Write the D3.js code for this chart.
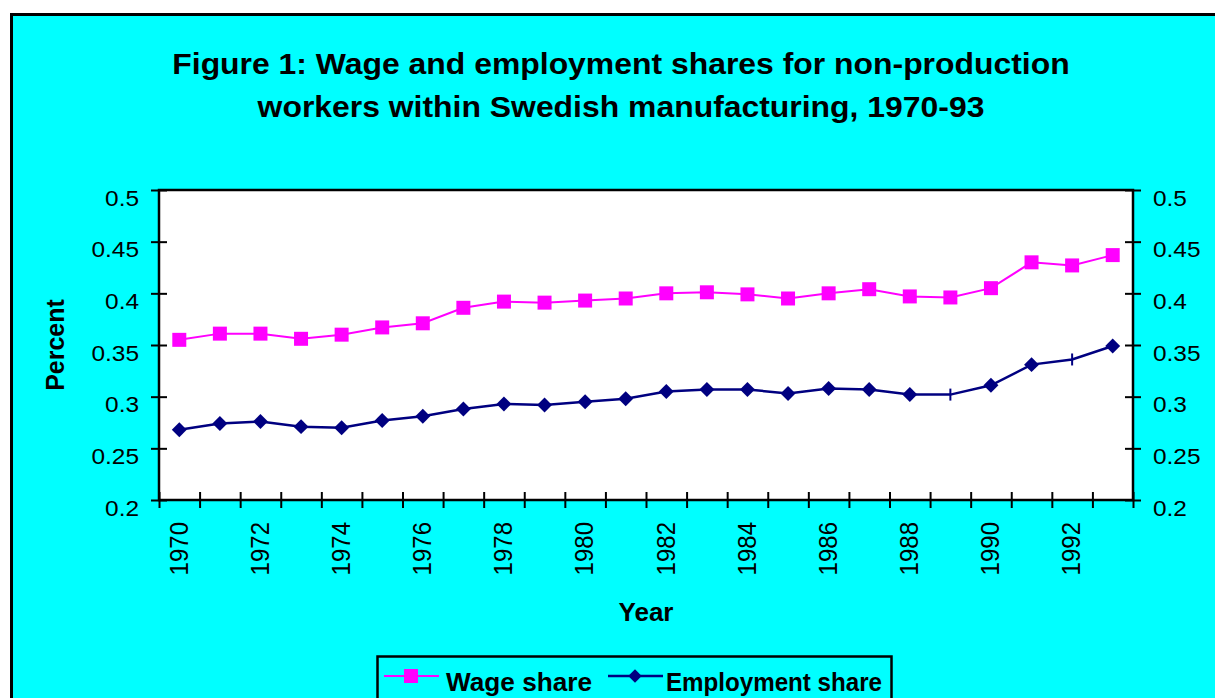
<!DOCTYPE html>
<html>
<head>
<meta charset="utf-8">
<script src="https://cdn.jsdelivr.net/npm/d3@7"></script>
<style>
  body { margin: 0; background: #fff; }
  text { font-family: Arial, "Liberation Sans", sans-serif; fill: #000; }
</style>
</head>
<body>
<div id="chart"></div>
<script>
// years on the category axis
var years = d3.range(1970, 1994);

// wage share of non-production workers
var wageShare = [0.355, 0.361, 0.361, 0.356, 0.360, 0.367, 0.371, 0.386, 0.392, 0.391,
    0.393, 0.395, 0.400, 0.401, 0.399, 0.395, 0.400, 0.404, 0.397, 0.396,
    0.405, 0.430, 0.427, 0.437];

// employment share of non-production workers
var employmentShare = [0.268, 0.274, 0.276, 0.271, 0.270, 0.277, 0.281, 0.288, 0.293, 0.292,
    0.295, 0.298, 0.305, 0.307, 0.307, 0.303, 0.308, 0.307, 0.302, 0.302,
    0.311, 0.331, 0.336, 0.349];

// years where the employment marker is drawn as a plain dash
var dashYears = [1989, 1992];

var yTicks = [0.2, 0.25, 0.3, 0.35, 0.4, 0.45, 0.5];
var labelYears = d3.range(1970, 1993, 2);

var svgWidth = 1215;
var svgHeight = 698;

// plot area in page pixels
var plot = { left: 159, right: 1133, top: 190, bottom: 500 };

var svg = d3.select("#chart")
    .append("svg")
    .attr("width", svgWidth)
    .attr("height", svgHeight);

// stretch a text element horizontally by a factor
function stretch(sel, k) {
    sel.each(function () {
        var w = this.getComputedTextLength();
        d3.select(this)
            .attr("textLength", w * k)
            .attr("lengthAdjust", "spacingAndGlyphs");
    });
}

// cyan chart area with black border (runs off the page right / bottom)
svg.append("rect")
    .attr("x", 11.5)
    .attr("y", 14.5)
    .attr("width", 1260)
    .attr("height", 760)
    .attr("fill", "#00ffff")
    .attr("stroke", "#000")
    .attr("stroke-width", 3);

// title
var titleLines = ["Figure 1: Wage and employment shares for non-production",
    "workers within Swedish manufacturing, 1970-93"];
svg.append("g").selectAll("text")
    .data(titleLines)
    .enter()
    .append("text")
    .attr("x", 621)
    .attr("y", (d, i) => 74 + i * 43)
    .attr("text-anchor", "middle")
    .style("font-size", "29px")
    .style("font-weight", "bold")
    .text(d => d)
    .call(stretch, 1.10);

// scales
var xBand = d3.scaleBand()
    .domain(years)
    .range([plot.left, plot.right])
    .padding(0);
var xEdge = d3.scaleLinear()
    .domain([0, years.length])
    .range([plot.left, plot.right]);
var yScale = d3.scaleLinear()
    .domain([0.2, 0.5])
    .range([plot.bottom, plot.top]);

var cx = d => xBand(d) + xBand.bandwidth() / 2;

// white plot background
svg.append("rect")
    .attr("x", plot.left)
    .attr("y", plot.top)
    .attr("width", plot.right - plot.left)
    .attr("height", plot.bottom - plot.top)
    .attr("fill", "#fff")
    .attr("stroke", "#000")
    .attr("stroke-width", 2.5);

// left axis
var leftAxis = svg.append("g")
    .attr("transform", `translate(${plot.left},0)`)
    .call(d3.axisLeft(yScale).tickValues(yTicks).tickSize(8).tickPadding(12).tickFormat(d3.format("")));

// right axis
var rightAxis = svg.append("g")
    .attr("transform", `translate(${plot.right},0)`)
    .call(d3.axisRight(yScale).tickValues(yTicks).tickSize(8).tickPadding(12).tickFormat(d3.format("")));

[leftAxis, rightAxis].forEach(function (ax) {
    ax.select(".domain").remove();
    ax.selectAll(".tick line")
        .attr("stroke", "#000")
        .attr("stroke-width", 2)
        .attr("x1", -8)
        .attr("x2", 8);
    ax.selectAll(".tick text")
        .attr("y", 8)
        .style("font-size", "22px")
        .style("font-family", "Arial, 'Liberation Sans', sans-serif")
        .call(stretch, 1.11);
});

// bottom axis: cross ticks at category edges
var bottomAxis = svg.append("g")
    .attr("transform", `translate(0,${plot.bottom})`)
    .call(d3.axisBottom(xEdge).tickValues(d3.range(years.length + 1)).tickSize(8).tickFormat(""));
bottomAxis.select(".domain").remove();
bottomAxis.selectAll(".tick line")
    .attr("stroke", "#000")
    .attr("stroke-width", 2)
    .attr("y1", -8)
    .attr("y2", 8);

// rotated year labels (glyphs a bit wider across, like the original)
svg.append("g").selectAll("text")
    .data(labelYears)
    .enter()
    .append("text")
    .attr("transform", d => `translate(${cx(d) - 1},${plot.bottom + 22}) rotate(-90) scale(1,1.1)`)
    .attr("text-anchor", "end")
    .attr("dy", "0.35em")
    .style("font-size", "24px")
    .text(d => d);

// axis titles
svg.append("text")
    .attr("transform", "translate(64,345) rotate(-90)")
    .attr("text-anchor", "middle")
    .style("font-size", "25px")
    .style("font-weight", "bold")
    .text("Percent");

svg.append("text")
    .attr("x", 646)
    .attr("y", 621)
    .attr("text-anchor", "middle")
    .style("font-size", "26px")
    .style("font-weight", "bold")
    .text("Year");

// series
var wageColor = "#ff00ff";
var empColor = "#000080";

var wageData = years.map((y, i) => ({ year: y, value: wageShare[i] }));
var empData = years.map((y, i) => ({ year: y, value: employmentShare[i] }));

var line = d3.line()
    .x(d => cx(d.year))
    .y(d => yScale(d.value));

svg.append("path")
    .datum(wageData)
    .attr("d", line)
    .attr("fill", "none")
    .attr("stroke", wageColor)
    .attr("stroke-width", 2);

svg.append("path")
    .datum(empData)
    .attr("d", line)
    .attr("fill", "none")
    .attr("stroke", empColor)
    .attr("stroke-width", 2.5);

var square = d3.symbol().type(d3.symbolSquare).size(196);
// rotated square for the diamond marker
var diamond = d3.symbol().type(d3.symbolSquare).size(112);
var legendDiamond = d3.symbol().type(d3.symbolSquare).size(90);

svg.append("g").selectAll("path")
    .data(wageData)
    .enter()
    .append("path")
    .attr("transform", d => `translate(${cx(d.year)},${yScale(d.value)})`)
    .attr("d", square)
    .attr("fill", wageColor);

svg.append("g").selectAll("path")
    .data(empData.filter(d => dashYears.indexOf(d.year) < 0))
    .enter()
    .append("path")
    .attr("transform", d => `translate(${cx(d.year)},${yScale(d.value)}) rotate(45)`)
    .attr("d", diamond)
    .attr("fill", empColor);

svg.append("g").selectAll("line")
    .data(empData.filter(d => dashYears.indexOf(d.year) >= 0))
    .enter()
    .append("line")
    .attr("x1", d => cx(d.year))
    .attr("x2", d => cx(d.year))
    .attr("y1", d => yScale(d.value) - 6)
    .attr("y2", d => yScale(d.value) + 6)
    .attr("stroke", empColor)
    .attr("stroke-width", 2);

// legend
var legend = svg.append("g");
legend.append("rect")
    .attr("x", 377.5)
    .attr("y", 656.5)
    .attr("width", 514)
    .attr("height", 60)
    .attr("fill", "#00ffff")
    .attr("stroke", "#000")
    .attr("stroke-width", 2.5);

var legendItems = [
    { label: "Wage share", color: wageColor, sym: square, rot: 0, x: 384, tx: 446, tw: 146, width: 2 },
    { label: "Employment share", color: empColor, sym: legendDiamond, rot: 45, x: 608, tx: 666, tw: 216, width: 2.5 }
];

legendItems.forEach(function (item) {
    legend.append("line")
        .attr("x1", item.x)
        .attr("x2", item.x + 55)
        .attr("y1", 676)
        .attr("y2", 676)
        .attr("stroke", item.color)
        .attr("stroke-width", item.width);
    legend.append("path")
        .attr("transform", `translate(${item.x + 27},676) rotate(${item.rot})`)
        .attr("d", item.sym)
        .attr("fill", item.color);
    legend.append("text")
        .attr("x", item.tx)
        .attr("y", 691)
        .attr("textLength", item.tw)
        .attr("lengthAdjust", "spacingAndGlyphs")
        .style("font-size", "26px")
        .style("font-weight", "bold")
        .text(item.label);
});
</script>
</body>
</html>
